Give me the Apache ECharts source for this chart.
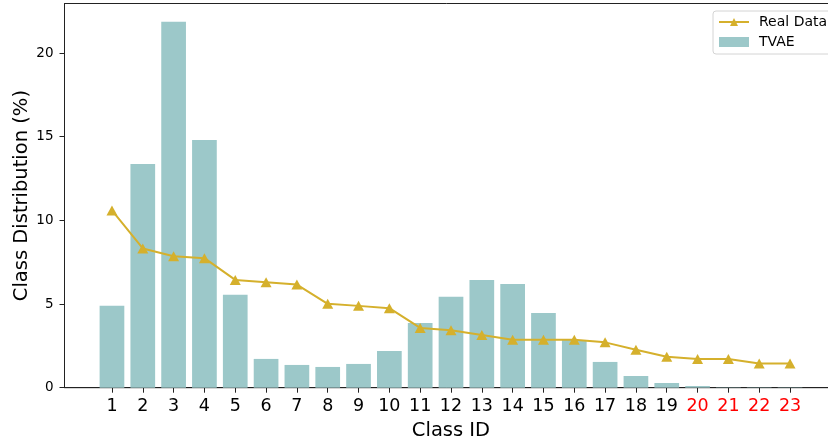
<!DOCTYPE html>
<html>
<head>
<meta charset="utf-8">
<script src="https://cdn.jsdelivr.net/npm/echarts@6/dist/echarts.min.js"></script>
<style>html,body{margin:0;padding:0;background:#fff}#c{width:828px;height:442px}</style>
</head>
<body>
<div id="c"></div>
<script>
const classIds = [1,2,3,4,5,6,7,8,9,10,11,12,13,14,15,16,17,18,19,20,21,22,23];
const realData = [10.59, 8.32, 7.86, 7.74, 6.44, 6.30, 6.16, 5.01, 4.89, 4.75, 3.57, 3.43, 3.15, 2.87, 2.87, 2.87, 2.71, 2.27, 1.85, 1.72, 1.72, 1.44, 1.44];
const tvaeData = [4.89, 13.37, 21.87, 14.81, 5.55, 1.72, 1.36, 1.24, 1.42, 2.20, 3.87, 5.43, 6.44, 6.20, 4.47, 2.85, 1.54, 0.70, 0.28, 0.10, 0.02, 0.02, 0.02];
const yTicks = [0, 5, 10, 15, 20];
const redFrom = 20;

const FONT = 'DejaVu Sans';
const chart = echarts.init(document.getElementById('c'), null, {renderer: 'canvas'});
chart.setOption({
  animation: false,
  backgroundColor: '#fff',
  grid: {left: 64.5, top: 3.5, right: -9.5, bottom: 54.3, show: true, borderColor: '#222', borderWidth: 1,
         containLabel: false, outerBoundsMode: 'none'},
  legend: {
    orient: 'vertical', left: 713, top: 11,
    padding: [4, 8, 5, 5], itemGap: 6, itemWidth: 30, itemHeight: 10,
    borderColor: '#d4d4d4', borderWidth: 1, borderRadius: 3, backgroundColor: '#fff',
    textStyle: {fontFamily: FONT, fontSize: 14, color: '#000', padding: [0, 0, 0, 5]},
    data: [{name: 'Real Data'}, {name: 'TVAE', icon: 'rect'}]
  },
  xAxis: {
    type: 'value', min: -0.54, max: 24.54,
    name: 'Class ID', nameLocation: 'middle', nameGap: 30,
    nameTextStyle: {fontFamily: FONT, fontSize: 19.5, color: '#000'},
    axisLine: {show: true, onZero: false, lineStyle: {color: '#222', width: 1}},
    axisTick: {show: true, length: 5, customValues: classIds, lineStyle: {color: '#222'}},
    axisLabel: {
      customValues: classIds, margin: 10, fontFamily: FONT, fontSize: 17.5,
      color: function (v) { return Number(v) >= redFrom ? '#ff0000' : '#000'; }
    },
    splitLine: {show: false}
  },
  yAxis: {
    type: 'value', min: 0, max: 22.96,
    name: 'Class Distribution (%)', nameLocation: 'middle', nameGap: 33, nameMoveOverlap: false,
    nameTextStyle: {fontFamily: FONT, fontSize: 19.5, color: '#000'},
    axisLine: {show: true, onZero: false, lineStyle: {color: '#222', width: 1}},
    axisTick: {show: true, length: 5, customValues: yTicks, lineStyle: {color: '#222'}},
    axisLabel: {customValues: yTicks, margin: 11, fontFamily: FONT, fontSize: 13.5, color: '#000'},
    splitLine: {show: false}
  },
  series: [
    {
      name: 'TVAE', type: 'bar', barWidth: 24.7, z: 2,
      itemStyle: {color: '#9cc8c9'},
      data: classIds.map((id, i) => [id, tvaeData[i]])
    },
    {
      name: 'Real Data', type: 'line', z: 3,
      symbol: 'triangle', symbolSize: [11, 10],
      lineStyle: {color: '#d5b02c', width: 2},
      itemStyle: {color: '#d5b02c'},
      data: classIds.map((id, i) => [id, realData[i]])
    }
  ]
});
</script>
</body>
</html>
